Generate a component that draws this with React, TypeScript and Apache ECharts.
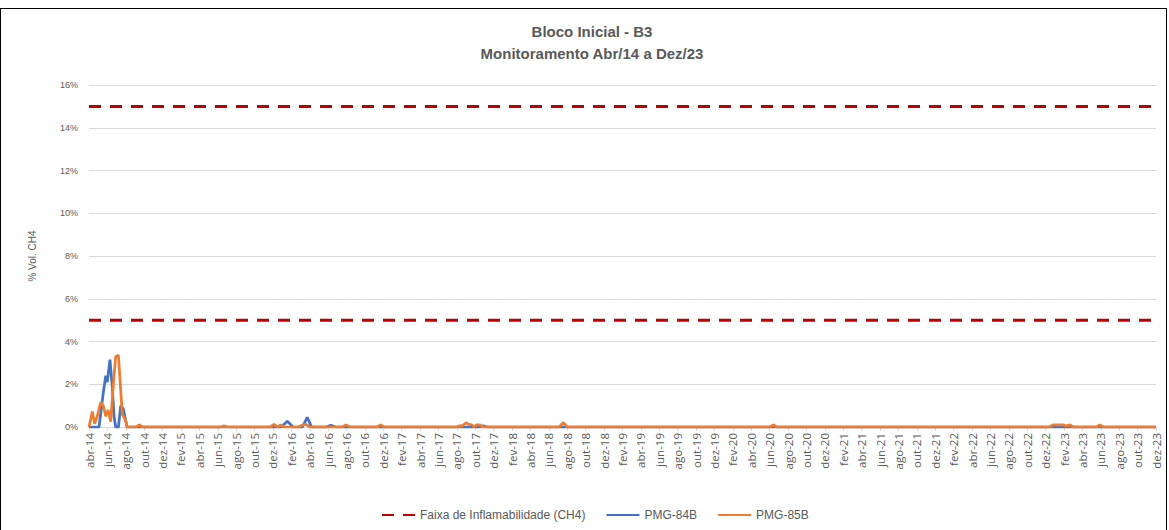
import React, { useEffect, useRef } from "react";
import * as echarts from "echarts";

// Tick labels: month abbreviations (Portuguese)
const monthNames = ["jan", "fev", "mar", "abr", "mai", "jun", "jul", "ago", "set", "out", "nov", "dez"];
const startMonth = 3; // abr
const startYear = 14;
const totalMonths = 116; // abr-14 .. dez-23

// Inflammability range limits (% vol CH4)
const limitLower = 5;
const limitUpper = 15;

// PMG-84B: months since abr-14 and % vol CH4
const pmg84bMonths = [0, 1.09, 1.55, 1.82, 1.99, 2.28, 2.53, 2.72, 2.9, 3.2, 3.45, 3.73, 3.99, 4.13,
  20.9, 21.56, 22.2, 23.2, 23.73, 24.2, 25.8, 26.3, 26.8, 42.5, 42.87, 43.3, 116];
const pmg84bValues = [0, 0, 1.6, 2.4, 2.1, 3.15, 1.9, 0.5, 0, 0, 1.0, 0.85, 0.3, 0,
  0, 0.27, 0, 0, 0.45, 0, 0, 0.08, 0, 0, 0.06, 0, 0];

// PMG-85B
const pmg85bMonths = [0, 0.36, 0.62, 0.9, 1.27, 1.55, 1.82, 2.07, 2.36, 2.65, 2.9, 3.2, 3.45, 3.62, 3.99, 4.13,
  5.1, 5.47, 5.85, 14.3, 14.68, 15.1, 19.7, 20.1, 20.5, 20.84, 21.2, 22.8, 23.2, 23.6, 24.0,
  27.5, 27.94, 28.4, 31.3, 31.7, 32.1,
  39.9, 40.3, 40.65, 41.0, 41.3, 41.6, 41.9, 42.15, 42.5, 42.8,
  51.1, 51.56, 52.0, 74.0, 74.4, 74.8,
  104.4, 104.8, 105.35, 105.9, 106.2, 106.65, 107.0, 109.5, 109.9, 110.3, 116];
const pmg85bValues = [0, 0.72, 0.15, 0.5, 1.15, 1.0, 0.5, 0.8, 0.25, 2.0, 3.3, 3.35, 1.7, 0.6, 0.3, 0,
  0, 0.1, 0, 0, 0.05, 0, 0, 0.12, 0, 0.1, 0, 0, 0.1, 0.12, 0,
  0, 0.1, 0, 0, 0.1, 0,
  0, 0.05, 0.08, 0.2, 0.12, 0.1, 0.02, 0.1, 0.1, 0,
  0, 0.2, 0, 0, 0.1, 0,
  0, 0.1, 0.1, 0.1, 0.05, 0.1, 0, 0, 0.1, 0, 0];

const titleLine1 = "Bloco Inicial - B3";
const titleLine2 = "Monitoramento Abr/14 a Dez/23";

const FONT = "Liberation Sans";
const GRAY = "#595959";

function monthLabel(v: number): string {
  const idx = startMonth + Math.round(v);
  const m = idx % 12;
  const y = startYear + Math.floor(idx / 12);
  return `${monthNames[m]}-${y}`;
}

export default function App() {
  const ref = useRef<HTMLDivElement>(null);
  useEffect(() => {
    if (!ref.current) return;
    const chart = echarts.init(ref.current, null, { renderer: "svg" });
    const zip = (xs: number[], ys: number[]) => xs.map((x, i) => [x, ys[i]]);
    const dashStyle = { color: "#C00000", width: 3, type: [12, 9] as any };
    const titleStyle = { fontFamily: FONT, fontSize: 15, fontWeight: "bold", fill: GRAY, align: "center", verticalAlign: "middle" };
    chart.setOption({
      animation: false,
      textStyle: { fontFamily: FONT },
      graphic: [
        { type: "text", x: 592, y: 31, style: { ...titleStyle, text: titleLine1 } },
        { type: "text", x: 592, y: 53, style: { ...titleStyle, text: titleLine2 } },
      ],
      legend: {
        bottom: 4,
        left: 376,
        itemWidth: 33,
        itemHeight: 10,
        itemGap: 20,
        itemStyle: { opacity: 0 },
        textStyle: { fontFamily: FONT, fontSize: 12, color: GRAY },
        data: ["Faixa de Inflamabilidade (CH4)", "PMG-84B", "PMG-85B"],
      },
      grid: { left: 89, right: 13, top: 85, bottom: 103, containLabel: false },
      xAxis: {
        type: "value",
        min: 0,
        max: totalMonths,
        interval: 2,
        splitLine: { show: false },
        axisLine: { show: true, lineStyle: { color: "#d9d9d9", width: 1 } },
        axisTick: { show: true, length: 4, lineStyle: { color: "#d9d9d9" } },
        axisLabel: {
          rotate: 90,
          margin: 6,
          fontFamily: "Open Sans",
          fontSize: 11.5,
          color: GRAY,
          formatter: (v: number) => monthLabel(v),
        },
      },
      yAxis: {
        type: "value",
        min: 0,
        max: 16,
        interval: 2,
        name: "% Vol. CH4",
        nameLocation: "middle",
        nameGap: 52,
        nameTextStyle: { fontFamily: FONT, fontSize: 10, color: GRAY },
        axisLine: { show: false },
        axisTick: { show: false },
        splitLine: { lineStyle: { color: "#d9d9d9", width: 1 } },
        axisLabel: { fontFamily: FONT, fontSize: 9, color: GRAY, margin: 11, formatter: "{value}%" },
      },
      series: [
        {
          name: "Faixa de Inflamabilidade (CH4)",
          type: "line",
          symbol: "none",
          lineStyle: dashStyle,
          itemStyle: { color: "#C00000" },
          data: [[0, limitUpper], [totalMonths, limitUpper]],
        },
        {
          name: "Faixa de Inflamabilidade (CH4)",
          type: "line",
          symbol: "none",
          lineStyle: dashStyle,
          itemStyle: { color: "#C00000" },
          data: [[0, limitLower], [totalMonths, limitLower]],
        },
        {
          name: "PMG-84B",
          type: "line",
          symbol: "none",
          lineStyle: { color: "#4472C4", width: 2.75 },
          itemStyle: { color: "#4472C4" },
          data: zip(pmg84bMonths, pmg84bValues),
        },
        {
          name: "PMG-85B",
          type: "line",
          symbol: "none",
          lineStyle: { color: "#ED7D31", width: 2.75 },
          itemStyle: { color: "#ED7D31" },
          data: zip(pmg85bMonths, pmg85bValues),
        },
      ],
    });
    return () => chart.dispose();
  }, []);
  return (
    <div style={{ position: "fixed", left: 0, top: 0, width: 1169, height: 530, background: "#fff" }}>
      <div ref={ref} style={{ position: "absolute", left: 0, top: 0, width: 1169, height: 530 }} />
      <div
        style={{
          position: "absolute",
          left: 0,
          top: 8,
          width: 1167,
          height: 540,
          border: "1px solid #000",
          boxSizing: "border-box",
          pointerEvents: "none",
        }}
      />
    </div>
  );
}
